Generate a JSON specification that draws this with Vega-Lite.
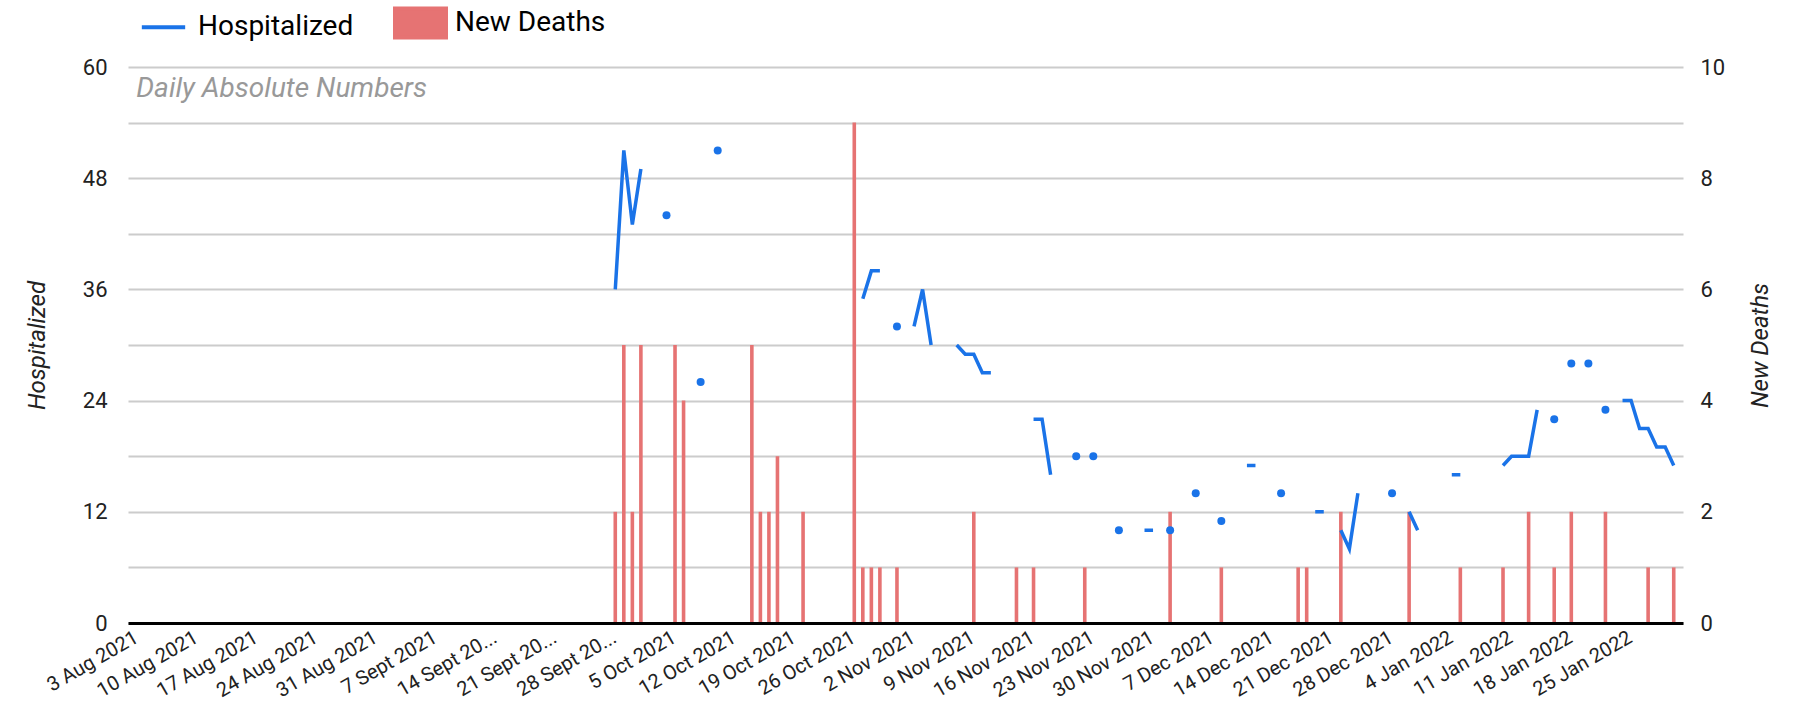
{
  "$schema": "https://vega.github.io/schema/vega-lite/v6.json",
  "width": 1555,
  "height": 556,
  "autosize": {"type": "none"},
  "padding": {"left": 128, "top": 67, "right": 130, "bottom": 98},
  "config": {"font": "Roboto", "view": {"stroke": null}, "axis": {"labelColor": "#222222", "titleColor": "#222222"}},
  "data": {"values": [
    {"date": "2021-09-28", "hosp": 36, "deaths": 2},
    {"date": "2021-09-29", "hosp": 51, "deaths": 5},
    {"date": "2021-09-30", "hosp": 43, "deaths": 2},
    {"date": "2021-10-01", "hosp": 49, "deaths": 5},
    {"date": "2021-10-02", "hosp": null, "deaths": null},
    {"date": "2021-10-03", "hosp": null, "deaths": null},
    {"date": "2021-10-04", "hosp": 44, "deaths": null},
    {"date": "2021-10-05", "hosp": null, "deaths": 5},
    {"date": "2021-10-06", "hosp": null, "deaths": 4},
    {"date": "2021-10-07", "hosp": null, "deaths": null},
    {"date": "2021-10-08", "hosp": 26, "deaths": null},
    {"date": "2021-10-09", "hosp": null, "deaths": null},
    {"date": "2021-10-10", "hosp": 51, "deaths": null},
    {"date": "2021-10-11", "hosp": null, "deaths": null},
    {"date": "2021-10-12", "hosp": null, "deaths": null},
    {"date": "2021-10-13", "hosp": null, "deaths": null},
    {"date": "2021-10-14", "hosp": null, "deaths": 5},
    {"date": "2021-10-15", "hosp": null, "deaths": 2},
    {"date": "2021-10-16", "hosp": null, "deaths": 2},
    {"date": "2021-10-17", "hosp": null, "deaths": 3},
    {"date": "2021-10-18", "hosp": null, "deaths": null},
    {"date": "2021-10-19", "hosp": null, "deaths": null},
    {"date": "2021-10-20", "hosp": null, "deaths": 2},
    {"date": "2021-10-21", "hosp": null, "deaths": null},
    {"date": "2021-10-22", "hosp": null, "deaths": null},
    {"date": "2021-10-23", "hosp": null, "deaths": null},
    {"date": "2021-10-24", "hosp": null, "deaths": null},
    {"date": "2021-10-25", "hosp": null, "deaths": null},
    {"date": "2021-10-26", "hosp": null, "deaths": 9},
    {"date": "2021-10-27", "hosp": 35, "deaths": 1},
    {"date": "2021-10-28", "hosp": 38, "deaths": 1},
    {"date": "2021-10-29", "hosp": 38, "deaths": 1},
    {"date": "2021-10-30", "hosp": null, "deaths": null},
    {"date": "2021-10-31", "hosp": 32, "deaths": 1},
    {"date": "2021-11-01", "hosp": null, "deaths": null},
    {"date": "2021-11-02", "hosp": 32, "deaths": null},
    {"date": "2021-11-03", "hosp": 36, "deaths": null},
    {"date": "2021-11-04", "hosp": 30, "deaths": null},
    {"date": "2021-11-05", "hosp": null, "deaths": null},
    {"date": "2021-11-06", "hosp": null, "deaths": null},
    {"date": "2021-11-07", "hosp": 30, "deaths": null},
    {"date": "2021-11-08", "hosp": 29, "deaths": null},
    {"date": "2021-11-09", "hosp": 29, "deaths": 2},
    {"date": "2021-11-10", "hosp": 27, "deaths": null},
    {"date": "2021-11-11", "hosp": 27, "deaths": null},
    {"date": "2021-11-12", "hosp": null, "deaths": null},
    {"date": "2021-11-13", "hosp": null, "deaths": null},
    {"date": "2021-11-14", "hosp": null, "deaths": 1},
    {"date": "2021-11-15", "hosp": null, "deaths": null},
    {"date": "2021-11-16", "hosp": 22, "deaths": 1},
    {"date": "2021-11-17", "hosp": 22, "deaths": null},
    {"date": "2021-11-18", "hosp": 16, "deaths": null},
    {"date": "2021-11-19", "hosp": null, "deaths": null},
    {"date": "2021-11-20", "hosp": null, "deaths": null},
    {"date": "2021-11-21", "hosp": 18, "deaths": null},
    {"date": "2021-11-22", "hosp": null, "deaths": 1},
    {"date": "2021-11-23", "hosp": 18, "deaths": null},
    {"date": "2021-11-24", "hosp": null, "deaths": null},
    {"date": "2021-11-25", "hosp": null, "deaths": null},
    {"date": "2021-11-26", "hosp": 10, "deaths": null},
    {"date": "2021-11-27", "hosp": null, "deaths": null},
    {"date": "2021-11-28", "hosp": null, "deaths": null},
    {"date": "2021-11-29", "hosp": 10, "deaths": null},
    {"date": "2021-11-30", "hosp": 10, "deaths": null},
    {"date": "2021-12-01", "hosp": null, "deaths": null},
    {"date": "2021-12-02", "hosp": 10, "deaths": 2},
    {"date": "2021-12-03", "hosp": null, "deaths": null},
    {"date": "2021-12-04", "hosp": null, "deaths": null},
    {"date": "2021-12-05", "hosp": 14, "deaths": null},
    {"date": "2021-12-06", "hosp": null, "deaths": null},
    {"date": "2021-12-07", "hosp": null, "deaths": null},
    {"date": "2021-12-08", "hosp": 11, "deaths": 1},
    {"date": "2021-12-09", "hosp": null, "deaths": null},
    {"date": "2021-12-10", "hosp": null, "deaths": null},
    {"date": "2021-12-11", "hosp": 17, "deaths": null},
    {"date": "2021-12-12", "hosp": 17, "deaths": null},
    {"date": "2021-12-13", "hosp": null, "deaths": null},
    {"date": "2021-12-14", "hosp": null, "deaths": null},
    {"date": "2021-12-15", "hosp": 14, "deaths": null},
    {"date": "2021-12-16", "hosp": null, "deaths": null},
    {"date": "2021-12-17", "hosp": null, "deaths": 1},
    {"date": "2021-12-18", "hosp": null, "deaths": 1},
    {"date": "2021-12-19", "hosp": 12, "deaths": null},
    {"date": "2021-12-20", "hosp": 12, "deaths": null},
    {"date": "2021-12-21", "hosp": null, "deaths": null},
    {"date": "2021-12-22", "hosp": 10, "deaths": 2},
    {"date": "2021-12-23", "hosp": 8, "deaths": null},
    {"date": "2021-12-24", "hosp": 14, "deaths": null},
    {"date": "2021-12-25", "hosp": null, "deaths": null},
    {"date": "2021-12-26", "hosp": null, "deaths": null},
    {"date": "2021-12-27", "hosp": null, "deaths": null},
    {"date": "2021-12-28", "hosp": 14, "deaths": null},
    {"date": "2021-12-29", "hosp": null, "deaths": null},
    {"date": "2021-12-30", "hosp": 12, "deaths": 2},
    {"date": "2021-12-31", "hosp": 10, "deaths": null},
    {"date": "2022-01-01", "hosp": null, "deaths": null},
    {"date": "2022-01-02", "hosp": null, "deaths": null},
    {"date": "2022-01-03", "hosp": null, "deaths": null},
    {"date": "2022-01-04", "hosp": 16, "deaths": null},
    {"date": "2022-01-05", "hosp": 16, "deaths": 1},
    {"date": "2022-01-06", "hosp": null, "deaths": null},
    {"date": "2022-01-07", "hosp": null, "deaths": null},
    {"date": "2022-01-08", "hosp": null, "deaths": null},
    {"date": "2022-01-09", "hosp": null, "deaths": null},
    {"date": "2022-01-10", "hosp": 17, "deaths": 1},
    {"date": "2022-01-11", "hosp": 18, "deaths": null},
    {"date": "2022-01-12", "hosp": 18, "deaths": null},
    {"date": "2022-01-13", "hosp": 18, "deaths": 2},
    {"date": "2022-01-14", "hosp": 23, "deaths": null},
    {"date": "2022-01-15", "hosp": null, "deaths": null},
    {"date": "2022-01-16", "hosp": 22, "deaths": 1},
    {"date": "2022-01-17", "hosp": null, "deaths": null},
    {"date": "2022-01-18", "hosp": 28, "deaths": 2},
    {"date": "2022-01-19", "hosp": null, "deaths": null},
    {"date": "2022-01-20", "hosp": 28, "deaths": null},
    {"date": "2022-01-21", "hosp": null, "deaths": null},
    {"date": "2022-01-22", "hosp": 23, "deaths": 2},
    {"date": "2022-01-23", "hosp": null, "deaths": null},
    {"date": "2022-01-24", "hosp": 24, "deaths": null},
    {"date": "2022-01-25", "hosp": 24, "deaths": null},
    {"date": "2022-01-26", "hosp": 21, "deaths": null},
    {"date": "2022-01-27", "hosp": 21, "deaths": 1},
    {"date": "2022-01-28", "hosp": 19, "deaths": null},
    {"date": "2022-01-29", "hosp": 19, "deaths": null},
    {"date": "2022-01-30", "hosp": 17, "deaths": 1}
  ]},
  "encoding": {
    "x": {
      "field": "date",
      "type": "temporal",
      "title": null,
      "scale": {"domain": [
        {"year": 2021, "month": "Aug", "date": 2, "hours": 12, "utc": true},
        {"year": 2022, "month": "Jan", "date": 30, "hours": 12, "utc": true}
      ]},
      "axis": {
        "values": [
          {"year": 2021, "month": "Aug", "date": 3, "utc": true},
          {"year": 2021, "month": "Aug", "date": 10, "utc": true},
          {"year": 2021, "month": "Aug", "date": 17, "utc": true},
          {"year": 2021, "month": "Aug", "date": 24, "utc": true},
          {"year": 2021, "month": "Aug", "date": 31, "utc": true},
          {"year": 2021, "month": "Sep", "date": 7, "utc": true},
          {"year": 2021, "month": "Sep", "date": 14, "utc": true},
          {"year": 2021, "month": "Sep", "date": 21, "utc": true},
          {"year": 2021, "month": "Sep", "date": 28, "utc": true},
          {"year": 2021, "month": "Oct", "date": 5, "utc": true},
          {"year": 2021, "month": "Oct", "date": 12, "utc": true},
          {"year": 2021, "month": "Oct", "date": 19, "utc": true},
          {"year": 2021, "month": "Oct", "date": 26, "utc": true},
          {"year": 2021, "month": "Nov", "date": 2, "utc": true},
          {"year": 2021, "month": "Nov", "date": 9, "utc": true},
          {"year": 2021, "month": "Nov", "date": 16, "utc": true},
          {"year": 2021, "month": "Nov", "date": 23, "utc": true},
          {"year": 2021, "month": "Nov", "date": 30, "utc": true},
          {"year": 2021, "month": "Dec", "date": 7, "utc": true},
          {"year": 2021, "month": "Dec", "date": 14, "utc": true},
          {"year": 2021, "month": "Dec", "date": 21, "utc": true},
          {"year": 2021, "month": "Dec", "date": 28, "utc": true},
          {"year": 2022, "month": "Jan", "date": 4, "utc": true},
          {"year": 2022, "month": "Jan", "date": 11, "utc": true},
          {"year": 2022, "month": "Jan", "date": 18, "utc": true},
          {"year": 2022, "month": "Jan", "date": 25, "utc": true}
        ],
        "labelExpr": "length(utcFormat(datum.value,'%-d') + ' ' + ['Jan','Feb','Mar','Apr','May','Jun','Jul','Aug','Sept','Oct','Nov','Dec'][utcmonth(datum.value)] + ' ' + utcFormat(datum.value,'%Y')) > 11 ? substring(utcFormat(datum.value,'%-d') + ' ' + ['Jan','Feb','Mar','Apr','May','Jun','Jul','Aug','Sept','Oct','Nov','Dec'][utcmonth(datum.value)] + ' ' + utcFormat(datum.value,'%Y'), 0, 10) + '...' : utcFormat(datum.value,'%-d') + ' ' + ['Jan','Feb','Mar','Apr','May','Jun','Jul','Aug','Sept','Oct','Nov','Dec'][utcmonth(datum.value)] + ' ' + utcFormat(datum.value,'%Y')",
        "labelAngle": -30,
        "labelAlign": "right",
        "labelBaseline": "top",
        "labelPadding": 4,
        "labelOffset": -6,
        "labelFontSize": 20,
        "labelColor": "#222222",
        "labelOverlap": false,
        "labelLimit": 0,
        "labelFlush": false,
        "ticks": false,
        "grid": false,
        "domainColor": "#000000",
        "domainWidth": 3,
        "zindex": 1
      }
    }
  },
  "layer": [
    {
      "mark": {"type": "bar", "size": 3.6, "color": "#e67373"},
      "encoding": {
        "y": {
          "field": "deaths",
          "type": "quantitative",
          "scale": {"domain": [0, 10]},
          "axis": {
            "orient": "right",
            "values": [0, 2, 4, 6, 8, 10],
            "grid": false,
            "domain": false,
            "ticks": false,
            "labelFontSize": 22,
            "labelPadding": 17,
            "title": "New Deaths",
            "titleAngle": 270,
            "titleBaseline": "top",
            "titleFontSize": 24,
            "titleFontStyle": "italic",
            "titleFontWeight": "normal",
            "titlePadding": 24
          }
        },
        "color": {
          "datum": "New Deaths",
          "scale": {"domain": ["Hospitalized", "New Deaths"], "range": ["#1a73e8", "#e67373"]},
          "legend": {
            "orient": "none",
            "legendX": 8,
            "legendY": -72,
            "direction": "horizontal",
            "title": null,
            "labelFontSize": 28,
            "labelColor": "#000000",
            "symbolSize": 2601,
            "columnPadding": 33,
            "labelOffset": 7,
            "encode": {
              "symbols": {
                "update": {
                  "shape": {"signal": "datum.value == 'Hospitalized' ? 'M-0.85,0H0.85' : 'M-1,-0.57H1V0.57H-1Z'"},
                  "fill": {"signal": "datum.value == 'Hospitalized' ? 'transparent' : '#e67373'"},
                  "stroke": {"signal": "datum.value == 'Hospitalized' ? '#1a73e8' : 'transparent'"},
                  "strokeWidth": {"value": 4},
                  "opacity": {"value": 1}
                }
              }
            }
          }
        }
      }
    },
    {
      "layer": [
        {
          "mark": {"type": "line", "strokeWidth": 3.5, "invalid": "break-paths-show-domains"},
          "encoding": {
            "y": {
              "field": "hosp",
              "type": "quantitative",
              "title": "Hospitalized",
              "scale": {"domain": [0, 60]},
              "axis": {
                "orient": "left",
                "values": [0, 6, 12, 18, 24, 30, 36, 42, 48, 54, 60],
                "labelExpr": "datum.value % 12 == 0 ? datum.label : ''",
                "grid": true,
                "gridColor": "#cccccc",
                "gridWidth": 2,
                "domain": false,
                "ticks": false,
                "labelFontSize": 22,
                "labelPadding": 21,
                "titleFontSize": 24,
                "titleFontStyle": "italic",
                "titleFontWeight": "normal",
                "titlePadding": 33
              }
            },
            "color": {"datum": "Hospitalized"}
          }
        },
        {
          "transform": [
            {"window": [{"op": "lag", "field": "hosp", "as": "prev"}, {"op": "lead", "field": "hosp", "as": "next"}], "sort": [{"field": "date", "order": "ascending"}]},
            {"filter": "datum.hosp != null && datum.prev == null && datum.next == null"}
          ],
          "mark": {"type": "circle", "size": 64, "opacity": 1},
          "encoding": {
            "y": {"field": "hosp", "type": "quantitative", "title": "Hospitalized"},
            "color": {"datum": "Hospitalized"}
          }
        },
        {
          "data": {"values": [{"date": "2021-08-03", "note": "Daily Absolute Numbers"}]},
          "mark": {"type": "text", "align": "left", "baseline": "top", "dx": -1, "dy": 8, "fontSize": 28, "fontStyle": "italic", "color": "#999999"},
          "encoding": {
            "y": {"datum": 60, "type": "quantitative", "title": "Hospitalized"},
            "text": {"field": "note"}
          }
        }
      ]
    }
  ],
  "resolve": {"scale": {"y": "independent"}}
}
